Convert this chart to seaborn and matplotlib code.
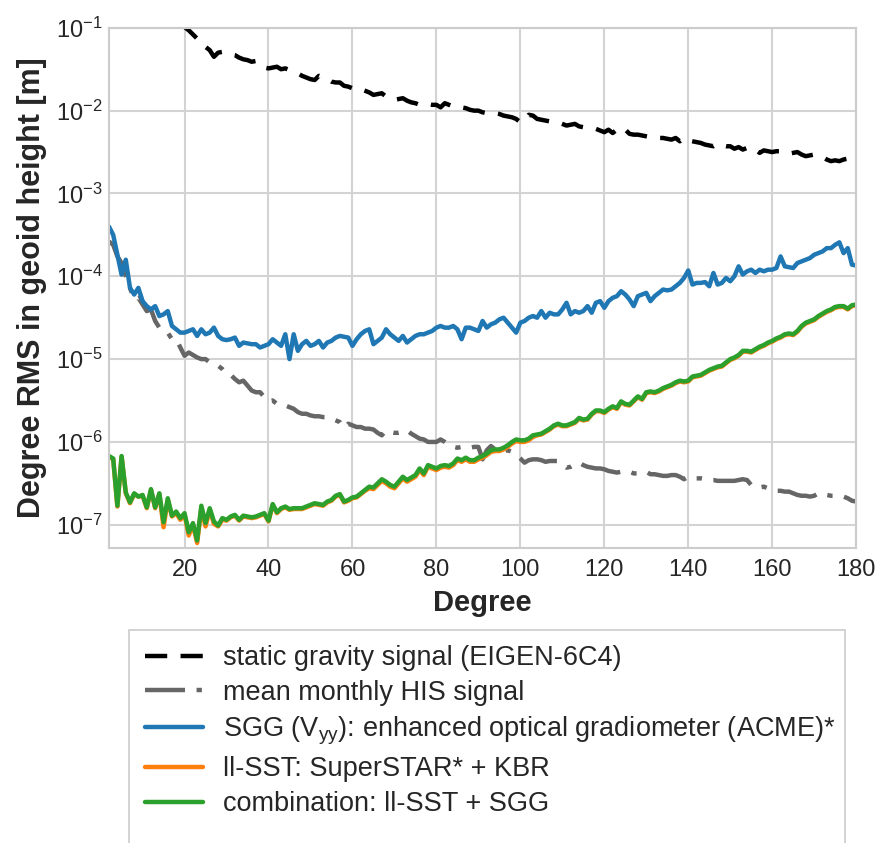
import numpy as np
import pandas as pd
import matplotlib
matplotlib.use("Agg")
import matplotlib.pyplot as plt
from matplotlib.patches import Rectangle
import seaborn as sns

# Spherical-harmonic degrees
deg = list(range(2, 181))
deg_static = list(range(19, 181))

# Degree RMS in geoid height, stored as log10 of metres
static_log10 = [
    -0.94, -0.99, -1.03, -1.08, -1.13, -1.19, -1.23, -1.27, -1.35, -1.30,
    -1.29, -1.31, -1.32, -1.33, -1.36, -1.38, -1.39, -1.41, -1.40, -1.45,
    -1.48, -1.49, -1.48, -1.47, -1.50, -1.49, -1.51, -1.53, -1.55, -1.58,
    -1.60, -1.62, -1.63, -1.58, -1.60, -1.62, -1.65, -1.66, -1.66, -1.70,
    -1.71, -1.73, -1.72, -1.74, -1.76, -1.78, -1.81, -1.80, -1.79, -1.83,
    -1.85, -1.87, -1.86, -1.85, -1.88, -1.90, -1.91, -1.93, -1.92, -1.92,
    -1.93, -1.93, -1.96, -1.91, -1.93, -1.95, -1.96, -1.96, -1.97, -1.99,
    -2.00, -2.00, -2.02, -2.03, -2.03, -2.03, -2.04, -2.06, -2.07, -2.08,
    -2.10, -2.14, -2.12, -2.05, -2.06, -2.10, -2.11, -2.12, -2.13, -2.13,
    -2.14, -2.16, -2.18, -2.17, -2.16, -2.19, -2.20, -2.21, -2.21, -2.22,
    -2.24, -2.26, -2.23, -2.27, -2.23, -2.26, -2.23, -2.28, -2.29, -2.29,
    -2.30, -2.31, -2.32, -2.32, -2.33, -2.33, -2.34, -2.35, -2.33, -2.37,
    -2.33, -2.36, -2.37, -2.38, -2.39, -2.41, -2.42, -2.43, -2.40, -2.42,
    -2.43, -2.43, -2.46, -2.44, -2.47, -2.45, -2.44, -2.47, -2.51, -2.48,
    -2.49, -2.50, -2.49, -2.49, -2.50, -2.52, -2.51, -2.50, -2.53, -2.55,
    -2.54, -2.53, -2.54, -2.56, -2.59, -2.61, -2.60, -2.61, -2.59, -2.58,
    -2.57, -2.57,
]

his_log10 = [
    -3.58, -3.62, -3.76, -3.84, -4.00, -4.14, -4.28, -4.26, -4.34, -4.42,
    -4.40, -4.54, -4.62, -4.64, -4.68, -4.76, -4.76, -4.86, -4.96, -4.92,
    -4.95, -4.98, -5.00, -5.00, -5.04, -5.06, -5.08, -5.12, -5.18, -5.19,
    -5.24, -5.28, -5.26, -5.32, -5.38, -5.40, -5.40, -5.46, -5.51, -5.50,
    -5.54, -5.56, -5.56, -5.58, -5.60, -5.64, -5.66, -5.66, -5.68, -5.69,
    -5.69, -5.70, -5.70, -5.72, -5.74, -5.76, -5.83, -5.78, -5.80, -5.82,
    -5.82, -5.84, -5.84, -5.85, -5.89, -5.92, -5.86, -5.88, -5.89, -5.89,
    -5.88, -5.86, -5.90, -5.93, -5.96, -5.97, -6.00, -6.00, -6.00, -5.97,
    -6.00, -6.04, -6.06, -6.07, -6.06, -6.06, -6.07, -6.06, -6.06, -6.21,
    -6.10, -6.05, -6.09, -6.10, -6.11, -6.10, -6.12, -6.16, -6.20, -6.25,
    -6.22, -6.21, -6.21, -6.22, -6.24, -6.23, -6.23, -6.23, -6.27, -6.31,
    -6.30, -6.27, -6.25, -6.28, -6.30, -6.31, -6.32, -6.32, -6.33, -6.35,
    -6.36, -6.37, -6.36, -6.35, -6.36, -6.38, -6.38, -6.37, -6.36, -6.39,
    -6.39, -6.40, -6.41, -6.41, -6.40, -6.40, -6.42, -6.45, -6.42, -6.44,
    -6.44, -6.44, -6.45, -6.46, -6.46, -6.47, -6.47, -6.47, -6.47, -6.47,
    -6.46, -6.45, -6.46, -6.52, -6.55, -6.55, -6.54, -6.56, -6.58, -6.59,
    -6.59, -6.60, -6.60, -6.62, -6.64, -6.65, -6.65, -6.66, -6.65, -6.62,
    -6.62, -6.64, -6.65, -6.65, -6.66, -6.66, -6.68, -6.71, -6.72,
]

sgg_log10 = [
    -3.40, -3.50, -3.74, -3.98, -3.80, -4.14, -4.22, -4.14, -4.30, -4.36,
    -4.40, -4.36, -4.48, -4.46, -4.42, -4.60, -4.64, -4.68, -4.68, -4.66,
    -4.64, -4.72, -4.64, -4.70, -4.68, -4.62, -4.72, -4.76, -4.77, -4.76,
    -4.74, -4.84, -4.80, -4.81, -4.82, -4.82, -4.86, -4.84, -4.82, -4.76,
    -4.80, -4.84, -4.70, -5.00, -4.70, -4.90, -4.82, -4.78, -4.84, -4.82,
    -4.78, -4.86, -4.80, -4.78, -4.74, -4.72, -4.73, -4.74, -4.84, -4.76,
    -4.70, -4.66, -4.64, -4.82, -4.78, -4.74, -4.64, -4.70, -4.74, -4.78,
    -4.72, -4.80, -4.76, -4.72, -4.70, -4.70, -4.68, -4.66, -4.62, -4.60,
    -4.62, -4.62, -4.60, -4.64, -4.76, -4.62, -4.62, -4.64, -4.66, -4.54,
    -4.62, -4.58, -4.56, -4.52, -4.50, -4.56, -4.62, -4.68, -4.56, -4.54,
    -4.50, -4.48, -4.50, -4.42, -4.50, -4.44, -4.46, -4.46, -4.40, -4.32,
    -4.46, -4.42, -4.44, -4.42, -4.36, -4.44, -4.32, -4.30, -4.38, -4.30,
    -4.26, -4.24, -4.18, -4.22, -4.28, -4.36, -4.24, -4.22, -4.20, -4.30,
    -4.24, -4.20, -4.16, -4.17, -4.16, -4.12, -4.08, -4.02, -3.93, -4.10,
    -4.08, -4.08, -4.07, -4.12, -3.96, -4.10, -4.08, -4.02, -4.06, -4.00,
    -3.88, -3.98, -3.94, -3.92, -3.96, -3.92, -3.94, -3.92, -3.92, -3.90,
    -3.76, -3.88, -3.89, -3.90, -3.84, -3.82, -3.80, -3.78, -3.74, -3.72,
    -3.70, -3.66, -3.66, -3.62, -3.59, -3.72, -3.66, -3.86, -3.87,
]

llsst_log10 = [
    -6.18, -6.21, -6.78, -6.18, -6.62, -6.74, -6.63, -6.66, -6.65, -6.80,
    -6.58, -6.80, -6.63, -7.03, -6.70, -6.90, -6.86, -6.94, -6.88, -7.13,
    -7.00, -7.22, -6.80, -7.02, -6.82, -6.99, -7.02, -6.94, -6.95, -6.91,
    -6.89, -6.95, -6.90, -6.91, -6.92, -6.91, -6.89, -6.87, -6.96, -6.76,
    -6.86, -6.81, -6.79, -6.82, -6.81, -6.81, -6.81, -6.79, -6.77, -6.75,
    -6.76, -6.77, -6.73, -6.71, -6.66, -6.64, -6.73, -6.71, -6.68, -6.67,
    -6.63, -6.59, -6.56, -6.57, -6.52, -6.47, -6.50, -6.54, -6.56, -6.50,
    -6.44, -6.48, -6.45, -6.42, -6.34, -6.40, -6.30, -6.32, -6.34, -6.31,
    -6.30, -6.31, -6.28, -6.22, -6.24, -6.21, -6.24, -6.24, -6.21, -6.19,
    -6.16, -6.12, -6.11, -6.11, -6.09, -6.06, -6.02, -5.99, -6.00, -6.00,
    -5.98, -5.94, -5.92, -5.91, -5.88, -5.85, -5.81, -5.79, -5.81, -5.81,
    -5.79, -5.77, -5.72, -5.74, -5.73, -5.67, -5.63, -5.63, -5.65, -5.61,
    -5.58, -5.60, -5.52, -5.55, -5.56, -5.51, -5.46, -5.49, -5.41, -5.40,
    -5.41, -5.39, -5.36, -5.34, -5.32, -5.29, -5.27, -5.28, -5.27, -5.22,
    -5.21, -5.20, -5.17, -5.14, -5.12, -5.10, -5.09, -5.05, -5.01, -4.99,
    -4.96, -4.91, -4.91, -4.92, -4.89, -4.86, -4.84, -4.81, -4.79, -4.76,
    -4.74, -4.71, -4.70, -4.71, -4.67, -4.61, -4.57, -4.55, -4.53, -4.49,
    -4.46, -4.43, -4.41, -4.38, -4.37, -4.37, -4.40, -4.36, -4.35,
]

combo_log10 = [
    -6.17, -6.20, -6.77, -6.17, -6.61, -6.73, -6.62, -6.66, -6.64, -6.79,
    -6.57, -6.79, -6.62, -6.97, -6.68, -6.89, -6.84, -6.92, -6.86, -7.09,
    -6.98, -7.19, -6.77, -6.98, -6.80, -6.96, -7.01, -6.92, -6.94, -6.90,
    -6.88, -6.94, -6.89, -6.90, -6.91, -6.90, -6.88, -6.86, -6.95, -6.75,
    -6.85, -6.80, -6.78, -6.81, -6.80, -6.80, -6.80, -6.78, -6.76, -6.74,
    -6.75, -6.76, -6.72, -6.70, -6.65, -6.63, -6.72, -6.70, -6.67, -6.66,
    -6.62, -6.58, -6.54, -6.55, -6.50, -6.45, -6.48, -6.52, -6.54, -6.48,
    -6.42, -6.46, -6.43, -6.40, -6.32, -6.38, -6.28, -6.30, -6.32, -6.29,
    -6.28, -6.29, -6.26, -6.20, -6.22, -6.19, -6.22, -6.22, -6.19, -6.17,
    -6.14, -6.10, -6.09, -6.09, -6.07, -6.04, -6.00, -5.97, -5.98, -5.98,
    -5.96, -5.92, -5.91, -5.90, -5.87, -5.84, -5.80, -5.78, -5.80, -5.80,
    -5.78, -5.76, -5.71, -5.73, -5.72, -5.66, -5.62, -5.62, -5.64, -5.60,
    -5.57, -5.59, -5.51, -5.54, -5.55, -5.50, -5.45, -5.48, -5.40, -5.39,
    -5.40, -5.38, -5.35, -5.33, -5.31, -5.28, -5.26, -5.27, -5.26, -5.21,
    -5.20, -5.19, -5.16, -5.13, -5.11, -5.09, -5.08, -5.04, -5.00, -4.98,
    -4.95, -4.90, -4.90, -4.91, -4.88, -4.85, -4.83, -4.80, -4.78, -4.75,
    -4.73, -4.70, -4.69, -4.70, -4.66, -4.60, -4.56, -4.54, -4.52, -4.48,
    -4.45, -4.42, -4.40, -4.37, -4.36, -4.36, -4.39, -4.35, -4.34,
]

labels = [
    "static gravity signal (EIGEN-6C4)",
    "mean monthly HIS signal",
    r"SGG (V$_\mathregular{yy}$): enhanced optical gradiometer (ACME)*",
    "ll-SST: SuperSTAR* + KBR",
    "combination: ll-SST + SGG",
]
colors = ["black", "#666666", "#1f77b4", "#ff7f0e", "#2ca02c"]
dash_patterns = [(5, 3), (9, 2.6, 1.2, 2.6), None, None, None]

sns.set_theme(style="whitegrid")
plt.rcParams["font.family"] = ["Liberation Sans", "DejaVu Sans"]
plt.rcParams["mathtext.fontset"] = "custom"
plt.rcParams["mathtext.rm"] = "Liberation Sans"
plt.rcParams["mathtext.it"] = "Liberation Sans:italic"
plt.rcParams["mathtext.bf"] = "Liberation Sans:bold"

fig = plt.figure(figsize=(8.79, 8.43), dpi=100)
ax = fig.add_axes([0.124, 0.350, 0.850, 0.617])

series = [
    (deg_static, static_log10),
    (deg, his_log10),
    (deg, sgg_log10),
    (deg, llsst_log10),
    (deg, combo_log10),
]
handles = []
for (x, lg), lab, col, dsh in zip(series, labels, colors, dash_patterns):
    df = pd.DataFrame({"Degree": x, "rms": 10.0 ** np.asarray(lg)})
    n_before = len(ax.lines)
    sns.lineplot(data=df, x="Degree", y="rms", ax=ax, color=col,
                 linewidth=3.2, label=lab, legend=False)
    line = ax.lines[n_before]
    if dsh is not None:
        line.set_dashes(dsh)
        line.set_dash_capstyle("butt")
    else:
        line.set_solid_capstyle("round")
    handles.append(line)

ax.set_yscale("log")
ax.set_xlim(2, 180)
ax.set_ylim(10 ** -7.28, 1e-1)
ax.set_yticks([1e-7, 1e-6, 1e-5, 1e-4, 1e-3, 1e-2, 1e-1])
ax.yaxis.set_minor_locator(matplotlib.ticker.NullLocator())
ax.set_xticks([20, 40, 60, 80, 100, 120, 140, 160, 180])

ax.tick_params(axis="x", labelsize=17, colors="#262626", pad=1.8)
ax.tick_params(axis="y", labelsize=17, colors="#262626", pad=-1.5)
ax.set_xlabel("Degree", fontsize=21, fontweight="bold", color="#262626", labelpad=6)
ax.set_ylabel("Degree RMS in geoid height [m]", fontsize=22, fontweight="bold",
              color="#262626", labelpad=6)

for sp in ax.spines.values():
    sp.set_color("#cccccc")
    sp.set_linewidth(1.5)
ax.grid(True, color="#d3d3d3", linewidth=1.5)

# Legend box below the axes; its lower edge runs past the bottom of the figure
fig_w, fig_h = 879.0, 843.0
fig.patches.append(Rectangle((129 / fig_w, -0.05), (845 - 129) / fig_w,
                             0.05 + (fig_h - 630) / fig_h,
                             transform=fig.transFigure, facecolor="white",
                             edgecolor="#cccccc", linewidth=1.2, zorder=0))

leg = fig.legend(handles=handles, labels=labels, loc="upper left",
                 bbox_to_anchor=(145 / fig_w, 1 - 645 / fig_h),
                 bbox_transform=fig.transFigure, borderaxespad=0.0,
                 borderpad=0.0, fontsize=19.5, frameon=False,
                 handlelength=2.15, handletextpad=0.72, labelspacing=0.33)
for t in leg.get_texts():
    t.set_color("#262626")

fig.savefig("out.png", dpi=100)
